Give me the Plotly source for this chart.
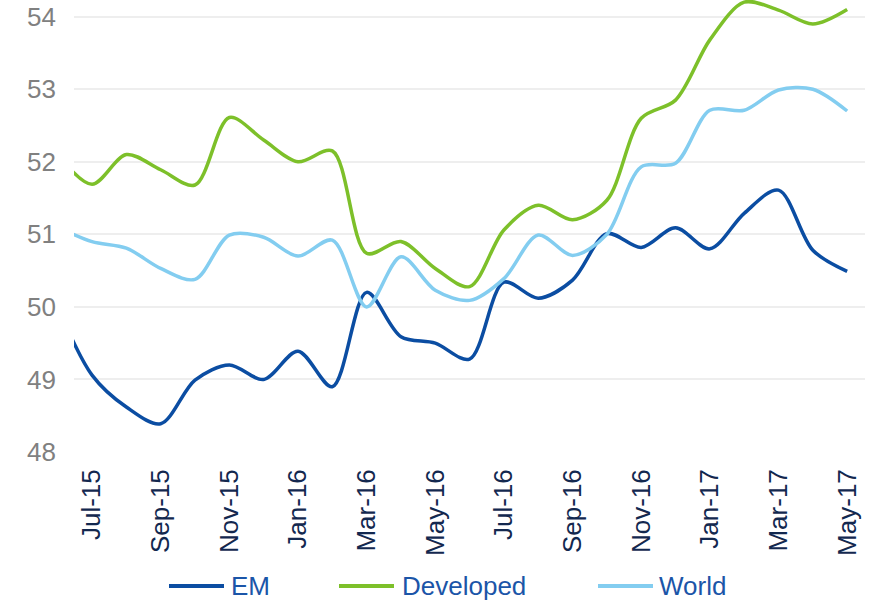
import plotly.graph_objects as go

# Monthly categories (Jun-15 lies just outside the visible range, as in the reference)
months = ["Jun-15", "Jul-15", "Aug-15", "Sep-15", "Oct-15", "Nov-15", "Dec-15",
          "Jan-16", "Feb-16", "Mar-16", "Apr-16", "May-16", "Jun-16", "Jul-16",
          "Aug-16", "Sep-16", "Oct-16", "Nov-16", "Dec-16", "Jan-17", "Feb-17",
          "Mar-17", "Apr-17", "May-17"]

em = [50.0, 49.06, 48.62, 48.39, 48.99, 49.2, 49.0, 49.39, 48.9, 50.2, 49.59,
      49.5, 49.28, 50.34, 50.12, 50.37, 51.01, 50.82, 51.09, 50.8, 51.29, 51.61,
      50.78, 50.49]
developed = [52.1, 51.69, 52.1, 51.89, 51.68, 52.61, 52.3, 52.0, 52.15, 50.74,
             50.9, 50.53, 50.28, 51.06, 51.4, 51.2, 51.47, 52.6, 52.85, 53.68,
             54.2, 54.09, 53.9, 54.1]
world = [51.1, 50.9, 50.81, 50.53, 50.38, 50.99, 50.96, 50.7, 50.92, 50.0,
         50.69, 50.23, 50.09, 50.39, 50.99, 50.71, 51.0, 51.93, 51.98, 52.71,
         52.71, 52.99, 53.0, 52.7]

tick_labels = ["Jul-15", "Sep-15", "Nov-15", "Jan-16", "Mar-16", "May-16",
               "Jul-16", "Sep-16", "Nov-16", "Jan-17", "Mar-17", "May-17"]
y_ticks = [48, 49, 50, 51, 52, 53, 54]
threshold = 50

series_names = ["EM", "Developed", "World"]
colors = ["#0B4DA2", "#7DC02A", "#83CDF0"]

FONT = "Liberation Sans, Arial, sans-serif"
W, H = 873, 601
ML, MR, MT, MB = 74, 8, 0, 149

fig = go.Figure()
for name, vals, col in zip(series_names, [em, developed, world], colors):
    fig.add_trace(go.Scatter(
        x=months, y=vals, name=name, mode="lines",
        line=dict(color=col, width=3.5, shape="spline", smoothing=0.9),
        showlegend=False, cliponaxis=True))

# 50 reference line
fig.add_shape(type="line", xref="paper", yref="y", x0=0, x1=1,
              y0=threshold, y1=threshold, line=dict(color="#1552A2", width=2),
              layer="below")

# Manual legend (line samples + text)
pw = W - ML - MR
ph = H - MT - MB
def px_to_paper_x(px):
    return (px - ML) / pw
def px_to_paper_y(py):
    return (H - MB - py) / ph

legend_items = [(169, 224, 229), (339, 394, 400), (598, 653, 657)]
for (x0, x1, xt), name, col in zip(legend_items, series_names, colors):
    fig.add_shape(type="line", xref="paper", yref="paper",
                  x0=px_to_paper_x(x0), x1=px_to_paper_x(x1),
                  y0=px_to_paper_y(586), y1=px_to_paper_y(586),
                  line=dict(color=col, width=4))
    fig.add_annotation(xref="paper", yref="paper", x=px_to_paper_x(xt),
                       y=px_to_paper_y(586), text=name, showarrow=False,
                       xanchor="left", yanchor="middle",
                       font=dict(family=FONT, size=26, color="#1B55A8"))

fig.update_layout(
    width=W, height=H,
    margin=dict(l=ML, r=MR, t=MT, b=MB, autoexpand=False),
    paper_bgcolor="white", plot_bgcolor="white",
    showlegend=False,
    font=dict(family=FONT),
)
fig.update_xaxes(
    type="category", range=[0.475, 23.52], automargin=False,
    tickmode="array", tickvals=tick_labels, ticktext=tick_labels,
    tickangle=-90, tickfont=dict(family=FONT, size=26, color="#13284F"),
    showgrid=False, showline=False, zeroline=False, ticks="",
    ticklabelstandoff=11,
)
fig.update_yaxes(
    range=[48, 54.23], tickvals=y_ticks, automargin=False,
    tickfont=dict(family=FONT, size=26, color="#808080"),
    showgrid=True, gridcolor="#EEEEEE", gridwidth=2,
    zeroline=False, showline=False, ticks="",
    ticklabelstandoff=17,
)

fig.write_html("out.html",
               config={"displayModeBar": False},
               post_script="document.body.style.margin='0';document.body.style.padding='0';")
